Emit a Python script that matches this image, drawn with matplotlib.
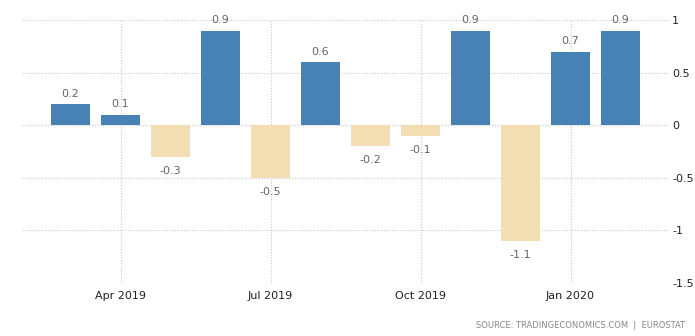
import numpy as np
import matplotlib
matplotlib.use("Agg")
import matplotlib.pyplot as plt

# monthly change, Mar 2019 .. Feb 2020
months = ["Mar 2019", "Apr 2019", "May 2019", "Jun 2019", "Jul 2019", "Aug 2019",
          "Sep 2019", "Oct 2019", "Nov 2019", "Dec 2019", "Jan 2020", "Feb 2020"]
values = [0.2, 0.1, -0.3, 0.9, -0.5, 0.6, -0.2, -0.1, 0.9, -1.1, 0.7, 0.9]
tick_months = ["Apr 2019", "Jul 2019", "Oct 2019", "Jan 2020"]
y_ticks = [1, 0.5, 0, -0.5, -1, -1.5]
y_tick_labels = ["1", "0.5", "0", "-0.5", "-1", "-1.5"]

pos_color = "#4682b4"
neg_color = "#f3ddb3"

fig = plt.figure(figsize=(6.95, 3.36), dpi=100)
ax = fig.add_axes([22 / 695, 53 / 336, 646 / 695, 263 / 336])

x = np.arange(len(months))
colors = [pos_color if v >= 0 else neg_color for v in values]
ax.bar(x, values, width=0.78, color=colors, zorder=3)

# value labels
for xi, v in zip(x, values):
    if v >= 0:
        ax.annotate(f"{v:g}", (xi, v), xytext=(0, 4), textcoords="offset points",
                    ha="center", va="bottom", fontsize=8, color="#666666",
                    annotation_clip=False, zorder=4)
    else:
        ax.annotate(f"{v:g}", (xi, v), xytext=(0, -6.5), textcoords="offset points",
                    ha="center", va="top", fontsize=8, color="#666666",
                    annotation_clip=False, zorder=4)

ax.set_xlim(-0.97, 11.95)
ax.set_ylim(-1.5, 1)

ax.set_xticks([months.index(m) for m in tick_months])
ax.set_xticklabels(tick_months, fontsize=8, color="#222222")
ax.set_yticks(y_ticks)
ax.set_yticklabels(y_tick_labels, fontsize=8, color="#222222")
ax.yaxis.tick_right()
ax.tick_params(axis="both", length=0)
ax.tick_params(axis="y", pad=3)
ax.tick_params(axis="x", pad=6)

ax.grid(True, linestyle=(0, (1, 1.5)), color="#c8c8c8", linewidth=0.8, zorder=0)
for s in ax.spines.values():
    s.set_visible(False)

fig.text(685 / 695, 1 - 325 / 336, "SOURCE: TRADINGECONOMICS.COM  |  EUROSTAT",
         ha="right", va="center", fontsize=6, color="#888888")

fig.savefig("out.png", dpi=100)
